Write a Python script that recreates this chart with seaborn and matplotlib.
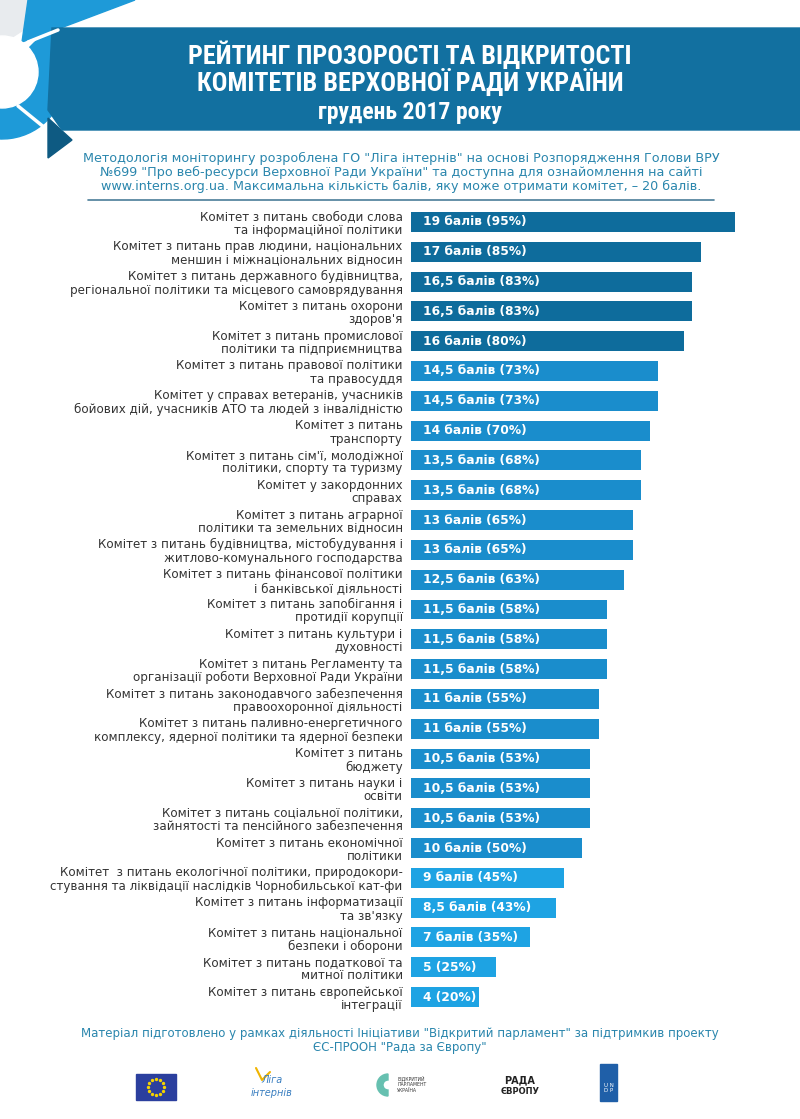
import matplotlib
matplotlib.use("Agg")
import matplotlib.pyplot as plt
import seaborn as sns
import pandas as pd
import numpy as np
from matplotlib.patches import Rectangle, Polygon, Circle, Wedge

categories = [
    "Комітет з питань свободи слова\nта інформаційної політики",
    "Комітет з питань прав людини, національних\nменшин і міжнаціональних відносин",
    "Комітет з питань державного будівництва,\nрегіональної політики та місцевого самоврядування",
    "Комітет з питань охорони\nздоров'я",
    "Комітет з питань промислової\nполітики та підприємництва",
    "Комітет з питань правової політики\nта правосуддя",
    "Комітет у справах ветеранів, учасників\nбойових дій, учасників АТО та людей з інвалідністю",
    "Комітет з питань\nтранспорту",
    "Комітет з питань сім'ї, молодіжної\nполітики, спорту та туризму",
    "Комітет у закордонних\nсправах",
    "Комітет з питань аграрної\nполітики та земельних відносин",
    "Комітет з питань будівництва, містобудування і\nжитлово-комунального господарства",
    "Комітет з питань фінансової політики\nі банківської діяльності",
    "Комітет з питань запобігання і\nпротидії корупції",
    "Комітет з питань культури і\nдуховності",
    "Комітет з питань Регламенту та\nорганізації роботи Верховної Ради України",
    "Комітет з питань законодавчого забезпечення\nправоохоронної діяльності",
    "Комітет з питань паливно-енергетичного\nкомплексу, ядерної політики та ядерної безпеки",
    "Комітет з питань\nбюджету",
    "Комітет з питань науки і\nосвіти",
    "Комітет з питань соціальної політики,\nзайнятості та пенсійного забезпечення",
    "Комітет з питань економічної\nполітики",
    "Комітет  з питань екологічної політики, природокори-\nстування та ліквідації наслідків Чорнобильської кат-фи",
    "Комітет з питань інформатизації\nта зв'язку",
    "Комітет з питань національної\nбезпеки і оборони",
    "Комітет з питань податкової та\nмитної політики",
    "Комітет з питань європейської\nінтеграції",
]
scores = [19, 17, 16.5, 16.5, 16, 14.5, 14.5, 14, 13.5, 13.5, 13, 13, 12.5,
          11.5, 11.5, 11.5, 11, 11, 10.5, 10.5, 10.5, 10, 9, 8.5, 7, 5, 4]
percents = [95, 85, 83, 83, 80, 73, 73, 70, 68, 68, 65, 65, 63,
            58, 58, 58, 55, 55, 53, 53, 53, 50, 45, 43, 35, 25, 20]
value_labels = [
    "19 балів (95%)", "17 балів (85%)", "16,5 балів (83%)", "16,5 балів (83%)",
    "16 балів (80%)", "14,5 балів (73%)", "14,5 балів (73%)", "14 балів (70%)",
    "13,5 балів (68%)", "13,5 балів (68%)", "13 балів (65%)", "13 балів (65%)",
    "12,5 балів (63%)", "11,5 балів (58%)", "11,5 балів (58%)", "11,5 балів (58%)",
    "11 балів (55%)", "11 балів (55%)", "10,5 балів (53%)", "10,5 балів (53%)",
    "10,5 балів (53%)", "10 балів (50%)", "9 балів (45%)", "8,5 балів (43%)",
    "7 балів (35%)", "5 (25%)", "4 (20%)",
]
groups = ["top"] * 5 + ["mid"] * 17 + ["low"] * 5

title_lines = ["РЕЙТИНГ ПРОЗОРОСТІ ТА ВІДКРИТОСТІ",
               "КОМІТЕТІВ ВЕРХОВНОЇ РАДИ УКРАЇНИ",
               "грудень 2017 року"]
desc_lines = [
    "Методологія моніторингу розроблена ГО \"Ліга інтернів\" на основі Розпорядження Голови ВРУ",
    "№699 \"Про веб-ресурси Верховної Ради України\" та доступна для ознайомлення на сайті",
    "www.interns.org.ua. Максимальна кількість балів, яку може отримати комітет, – 20 балів.",
]
footer_lines = [
    "Матеріал підготовлено у рамках діяльності Ініціативи \"Відкритий парламент\" за підтримкив проекту",
    "ЄС-ПРООН \"Рада за Європу\"",
]

palette = {"top": "#0e6c9c", "mid": "#1a8dcc", "low": "#1ea3e3"}

df = pd.DataFrame({"category": categories, "score": scores,
                   "group": groups, "label": value_labels})

sns.set_theme(style="white")
plt.rcParams["font.family"] = ["DejaVu Sans"]

W, H = 800, 1119
fig = plt.figure(figsize=(W / 100, H / 100), dpi=100)
fig.patch.set_facecolor("white")

# background / decoration layer in pixel coordinates
bg = fig.add_axes([0, 0, 1, 1], zorder=0)
bg.set_xlim(0, W)
bg.set_ylim(H, 0)
bg.axis("off")

bg.add_patch(Polygon([(0, 0), (70, 0), (0, 45)], closed=True, color="#e8ebee"))
bg.add_patch(Wedge((2, 75), 64, -45, 125, color="#1e9ad8"))
bg.add_patch(Polygon([(28, 0), (135, 0), (50, 32), (22, 42)], closed=True, color="#1e9ad8"))
bg.add_patch(Polygon([(48, 118), (72, 140), (48, 158)], closed=True, color="#0e5a82"))
bg.add_patch(Polygon([(52, 28), (W, 28), (W, 130), (62, 130), (48, 110)], closed=True, color="#1270a0"))
bg.add_patch(Circle((2, 72), 36, color="white"))
bg.plot([18, 45], [106, 128], color="white", lw=2.5)
bg.plot([28, 58], [42, 30], color="white", lw=2.5)

ty = [55, 83, 112]
tsz = [18.8, 18.8, 17]
for t, y, s in zip(title_lines, ty, tsz):
    bg.text(410, y, t, ha="center", va="center", color="white", fontsize=s,
            fontweight="bold", family=["Liberation Sans Narrow", "Roboto Condensed", "DejaVu Sans"])

for i, t in enumerate(desc_lines):
    bg.text(401, 158 + i * 14, t, ha="center", va="center", color="#2a86ad", fontsize=9.2)
bg.plot([88, 714], [200, 200], color="#4a7d98", lw=1.2)

for i, t in enumerate(footer_lines):
    bg.text(400, 1033 + i * 14, t, ha="center", va="center", color="#2a86ad", fontsize=8.5)

# logos (simplified)
bg.add_patch(Rectangle((136, 1074), 40, 26, color="#2b3f9e"))
ang = np.linspace(0, 2 * np.pi, 13)[:-1]
bg.scatter(156 + 8 * np.cos(ang), 1087 + 8 * np.sin(ang), s=2, color="#f5d300", zorder=3)
bg.plot([256, 262, 270], [1068, 1080, 1072], color="#f0b400", lw=1.5)
bg.text(272, 1080, "Ліга", color="#3a7fc0", fontsize=7, ha="center", va="center", style="italic")
bg.text(272, 1093, "інтернів", color="#3a7fc0", fontsize=7, ha="center", va="center", style="italic")
bg.add_patch(Wedge((388, 1085), 11, 90, 270, width=6, color="#66c0b0"))
bg.text(397, 1084, "ВІДКРИТИЙ\nПАРЛАМЕНТ\nУКРАЇНА", color="#333333", fontsize=3.3, ha="left", va="center")
bg.text(520, 1080, "РАДА", color="#222222", fontsize=7, ha="center", va="center", fontweight="bold")
bg.text(520, 1092, "ЄВРОПУ", color="#222222", fontsize=6, ha="center", va="center", fontweight="bold")
bg.add_patch(Rectangle((600, 1064), 17, 37, color="#1f5fa8"))
bg.text(608.5, 1088, "U N\nD P", color="white", fontsize=4, ha="center", va="center")

# bar chart
left_px, right_px = 411, 411 + 20 * 17.05
top_px, bot_px = 207, 1012
ax = fig.add_axes([left_px / W, 1 - bot_px / H, (right_px - left_px) / W, (bot_px - top_px) / H], zorder=1)
ax.patch.set_alpha(0)
sns.barplot(data=df, x="score", y="category", hue="group", palette=palette,
            order=categories, orient="h", width=0.67, legend=False, ax=ax,
            saturation=1, linewidth=0)
ax.set_xlim(0, 20)
ax.set_ylim(len(categories) - 0.5, -0.5)
ax.set_xlabel("")
ax.set_ylabel("")
ax.set_xticks([])
for sp in ax.spines.values():
    sp.set_visible(False)
ax.tick_params(axis="y", length=0, pad=6, labelsize=8.6, labelcolor="#333333")
for lab in ax.get_yticklabels():
    lab.set_linespacing(1.05)

for i, (v, lab) in enumerate(zip(scores, value_labels)):
    ax.text(0.7, i, lab, ha="left", va="center", color="white", fontsize=8.8, fontweight="bold")

fig.savefig("out.png", dpi=100, facecolor="white")
